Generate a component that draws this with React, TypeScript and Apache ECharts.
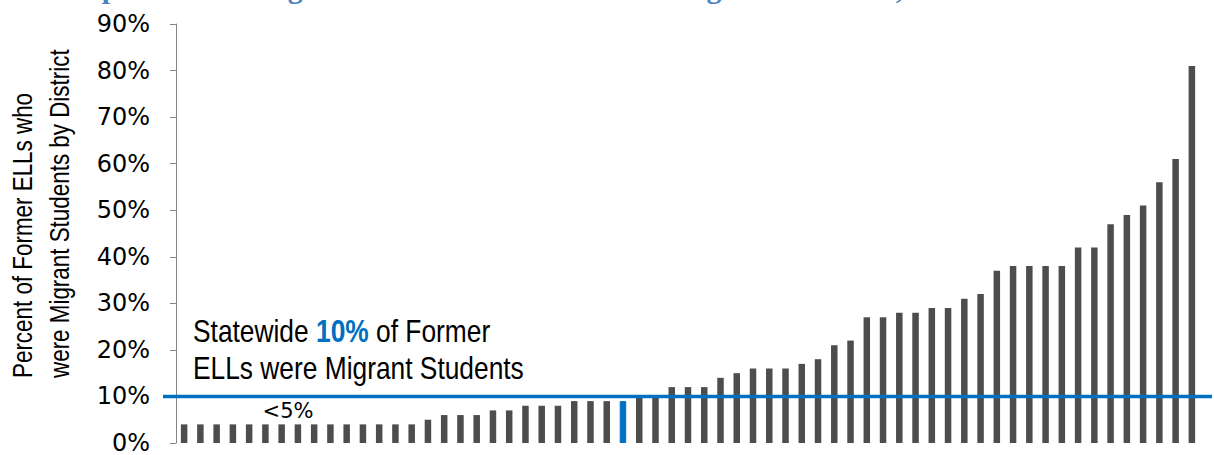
import React, { useEffect, useRef } from "react";
import * as echarts from "echarts";

// Percent of former ELLs who were migrant students, one bar per district (sorted)
const values: number[] = [
  4, 4, 4, 4, 4, 4, 4, 4, 4, 4, 4, 4, 4, 4, 4,
  5, 6, 6, 6, 7, 7, 8, 8, 8, 9, 9, 9, 9,
  10, 10, 12, 12, 12, 14, 15, 16, 16, 16, 17, 18, 21, 22,
  27, 27, 28, 28, 29, 29, 31, 32, 37, 38, 38, 38, 38,
  42, 42, 47, 49, 51, 56, 61, 81,
];
const districts: string[] = values.map((_, i) => `District ${i + 1}`);
const highlightIndex = 27;
const statewide = 10;
const yTicks: number[] = [0, 10, 20, 30, 40, 50, 60, 70, 80, 90];

const titleText = "Graph 5: Percentage of Former ELLs who were Migrant Students, 2012";
const axisTitle1 = "Percent of Former ELLs who";
const axisTitle2 = "were Migrant Students by District";
const lowLabel = "<5%";

const sans = '"Liberation Sans", Arial, sans-serif';

export default function App() {
  const ref = useRef<HTMLDivElement>(null);
  useEffect(() => {
    document.body.style.margin = "0";
    if (!ref.current) return;
    const chart = echarts.init(ref.current, null, { renderer: "svg" });
    chart.setOption({
      animation: false,
      grid: { left: 176, right: 14, top: 24, bottom: 12, containLabel: false },
      xAxis: {
        type: "category",
        data: districts,
        axisLine: { show: false },
        axisTick: { show: false },
        axisLabel: { show: false },
      },
      yAxis: {
        type: "value",
        min: yTicks[0] / 100,
        max: yTicks[yTicks.length - 1] / 100,
        interval: 0.1,
        splitLine: { show: false },
        axisLine: { show: true, lineStyle: { color: "#868686", width: 1 } },
        axisTick: { show: true, length: 6, lineStyle: { color: "#868686" } },
        axisLabel: {
          formatter: (v: number) => `${Math.round(v * 100)}%`,
          fontFamily: "DejaVu Sans",
          fontSize: 24,
          color: "#000",
          margin: 26,
        },
      },
      series: [
        {
          type: "bar",
          data: values.map((v, i) =>
            i === highlightIndex
              ? { value: v / 100, itemStyle: { color: "#0070c0", borderColor: "#0070c0", borderWidth: 1 } }
              : v / 100
          ),
          barWidth: 6.5,
          itemStyle: { color: "#4d4d4d" },
        },
      ],
    });
    const yLine = chart.convertToPixel({ yAxisIndex: 0 }, statewide / 100) as number;
    chart.setOption({
      graphic: [
        {
          type: "line",
          z: 10,
          shape: { x1: 163, y1: yLine, x2: 1212, y2: yLine },
          style: { stroke: "#0070c0", lineWidth: 3.5 },
        },
        {
          type: "text",
          x: 50,
          y: -13,
          style: {
            text: titleText,
            fontFamily: '"Liberation Serif", "DejaVu Serif", serif',
            fontWeight: "bold",
            fontSize: 30,
            fill: "#4f81bd",
            textAlign: "left",
            textVerticalAlign: "middle",
          },
        },
        {
          type: "text",
          x: 23,
          y: 378,
          rotation: Math.PI / 2,
          scaleX: 0.83,
          style: {
            text: axisTitle1,
            fontFamily: sans,
            fontSize: 27,
            fill: "#000",
            textAlign: "left",
            textVerticalAlign: "middle",
          },
        },
        {
          type: "text",
          x: 60,
          y: 378,
          rotation: Math.PI / 2,
          scaleX: 0.83,
          style: {
            text: axisTitle2,
            fontFamily: sans,
            fontSize: 27,
            fill: "#000",
            textAlign: "left",
            textVerticalAlign: "middle",
          },
        },
        {
          type: "text",
          x: 193,
          y: 350,
          scaleX: 0.85,
          style: {
            text: `{a|Statewide }{b|${statewide}%}{a| of Former}\n{a|ELLs were Migrant Students}`,
            textAlign: "left",
            textVerticalAlign: "middle",
            rich: {
              a: { fontFamily: sans, fontSize: 31, fill: "#000", lineHeight: 37 },
              b: { fontFamily: sans, fontSize: 31, fontWeight: "bold", fill: "#0070c0", lineHeight: 37 },
            },
          },
        },
        {
          type: "text",
          x: 288,
          y: 411,
          style: {
            text: lowLabel,
            fontFamily: "DejaVu Sans",
            fontSize: 21,
            fill: "#000",
            textAlign: "center",
            textVerticalAlign: "middle",
          },
        },
      ],
    });
    return () => chart.dispose();
  }, []);
  return <div ref={ref} style={{ width: 1214, height: 455 }} />;
}
